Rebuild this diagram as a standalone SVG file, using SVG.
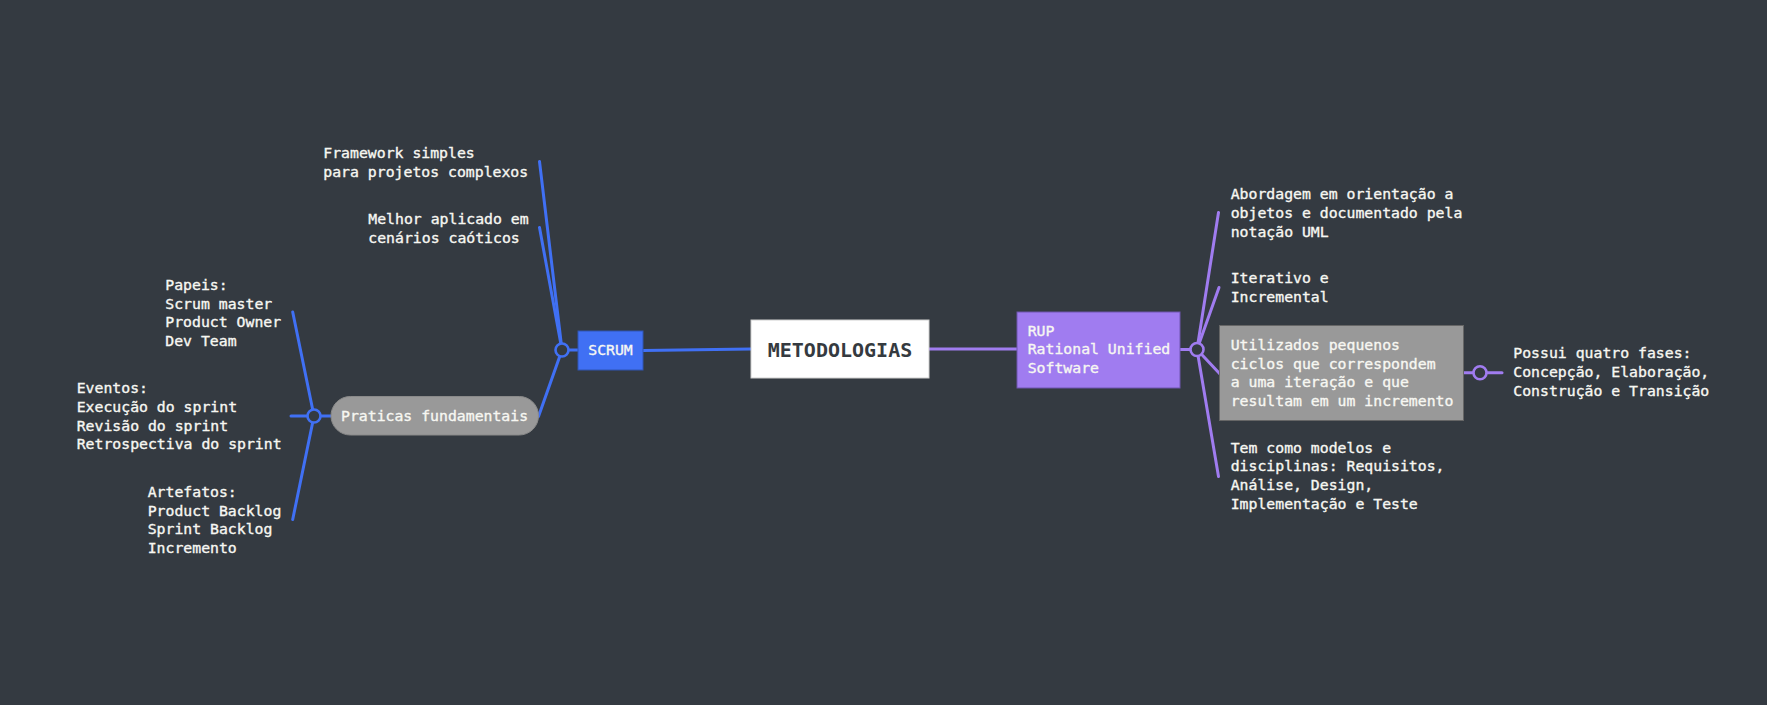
<svg xmlns="http://www.w3.org/2000/svg" width="1767" height="705" viewBox="0 0 1767 705">
<style>
.t{font-family:"DejaVu Sans Mono","Liberation Mono",monospace;font-size:14.8px;fill:#f7f7f2;stroke:#f7f7f2;stroke-width:0.35px}
.blue{stroke:#4070f4;stroke-width:3;fill:none;stroke-linecap:round}
.purp{stroke:#a07cf0;stroke-width:3;fill:none;stroke-linecap:round}
.dot{fill:#343a41;stroke-width:2.6}
</style>
<rect width="1767" height="705" fill="#343a41"/>
<g id="connectors">
<line class="blue" x1="539.5" y1="161.5" x2="562" y2="350"/>
<line class="blue" x1="539.5" y1="227.5" x2="562" y2="350"/>
<line class="blue" x1="538.5" y1="416.5" x2="562" y2="350"/>
<line class="blue" x1="562" y1="350" x2="578" y2="350"/>
<line class="blue" x1="643" y1="350.5" x2="751" y2="349"/>
<line class="blue" x1="292.7" y1="312" x2="314" y2="416"/>
<line class="blue" x1="291" y1="416" x2="331" y2="416"/>
<line class="blue" x1="292.7" y1="519.5" x2="314" y2="416"/>
<circle class="blue dot" cx="562" cy="350" r="6.5"/>
<circle class="blue dot" cx="314" cy="416" r="6.5"/>
<line class="purp" x1="929" y1="349" x2="1017" y2="349"/>
<line class="purp" x1="1180" y1="349.5" x2="1197" y2="349.5"/>
<line class="purp" x1="1197" y1="349.5" x2="1218.5" y2="212.5"/>
<line class="purp" x1="1197" y1="349.5" x2="1219" y2="287.5"/>
<line class="purp" x1="1197" y1="349.5" x2="1220" y2="374"/>
<line class="purp" x1="1197" y1="349.5" x2="1218.5" y2="476.5"/>
<line class="purp" x1="1463.5" y1="372.7" x2="1502" y2="372.7"/>
<circle class="purp dot" cx="1197" cy="349.5" r="6.5"/>
<circle class="purp dot" cx="1480" cy="372.7" r="6.5"/>
</g>
<g id="metodologias">
<rect x="751" y="320" width="178" height="58" fill="#ffffff" stroke="#cfcfcf" stroke-width="1"/>
<text x="840" y="356.7" text-anchor="middle" font-family="DejaVu Sans Mono, Liberation Mono, monospace" font-size="20" font-weight="bold" fill="#353a40">METODOLOGIAS</text>
</g>
<g id="scrum">
<rect x="578" y="331" width="65" height="39" fill="#4070f4" stroke="#2f55b5" stroke-width="1"/>
<text class="t" x="610.5" y="355" text-anchor="middle">SCRUM</text>
</g>
<g id="framework">
<text class="t"><tspan x="323.3" y="158">Framework simples</tspan><tspan x="323.3" y="176.7">para projetos complexos</tspan></text>
</g>
<g id="melhor">
<text class="t"><tspan x="368.3" y="224">Melhor aplicado em</tspan><tspan x="368.3" y="242.7">cenários caóticos</tspan></text>
</g>
<g id="praticas">
<rect x="331" y="396.5" width="207.5" height="38.5" rx="19.25" fill="#999999" stroke="#8a8a8a" stroke-width="1"/>
<text class="t" x="341" y="420.7">Praticas fundamentais</text>
</g>
<g id="papeis">
<text class="t"><tspan x="165.3" y="290">Papeis:</tspan><tspan x="165.3" y="308.7">Scrum master</tspan><tspan x="165.3" y="327.3">Product Owner</tspan><tspan x="165.3" y="346">Dev Team</tspan></text>
</g>
<g id="eventos">
<text class="t"><tspan x="76.7" y="393.3">Eventos:</tspan><tspan x="76.7" y="412">Execução do sprint</tspan><tspan x="76.7" y="430.5">Revisão do sprint</tspan><tspan x="76.7" y="449.3">Retrospectiva do sprint</tspan></text>
</g>
<g id="artefatos">
<text class="t"><tspan x="147.7" y="496.7">Artefatos:</tspan><tspan x="147.7" y="515.5">Product Backlog</tspan><tspan x="147.7" y="534">Sprint Backlog</tspan><tspan x="147.7" y="552.7">Incremento</tspan></text>
</g>
<g id="rup">
<rect x="1017" y="312" width="163" height="76" fill="#a07cf0" stroke="#6f55b0" stroke-width="1"/>
<text class="t"><tspan x="1027.7" y="335.7">RUP</tspan><tspan x="1027.7" y="354.3">Rational Unified</tspan><tspan x="1027.7" y="372.7">Software</tspan></text>
</g>
<g id="abordagem">
<text class="t"><tspan x="1230.7" y="199.3">Abordagem em orientação a</tspan><tspan x="1230.7" y="218">objetos e documentado pela</tspan><tspan x="1230.7" y="236.7">notação UML</tspan></text>
</g>
<g id="iterativo">
<text class="t"><tspan x="1230.7" y="283.3">Iterativo e</tspan><tspan x="1230.7" y="302">Incremental</tspan></text>
</g>
<g id="utilizados">
<rect x="1219.5" y="325.5" width="244" height="95" fill="#999999" stroke="#666666" stroke-width="1"/>
<text class="t"><tspan x="1230.7" y="350">Utilizados pequenos</tspan><tspan x="1230.7" y="368.7">ciclos que correspondem</tspan><tspan x="1230.7" y="387.3">a uma iteração e que</tspan><tspan x="1230.7" y="406">resultam em um incremento</tspan></text>
</g>
<g id="temcomo">
<text class="t"><tspan x="1230.7" y="452.7">Tem como modelos e</tspan><tspan x="1230.7" y="471.3">disciplinas: Requisitos,</tspan><tspan x="1230.7" y="490">Análise, Design,</tspan><tspan x="1230.7" y="508.7">Implementação e Teste</tspan></text>
</g>
<g id="possui">
<text class="t"><tspan x="1513.3" y="358.3">Possui quatro fases:</tspan><tspan x="1513.3" y="377">Concepção, Elaboração,</tspan><tspan x="1513.3" y="395.7">Construção e Transição</tspan></text>
</g>
</svg>
